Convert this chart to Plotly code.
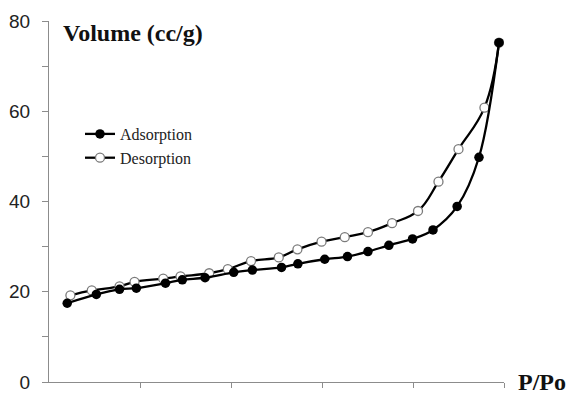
import plotly.graph_objects as go

# Data
ads_p = [0.040, 0.104, 0.155, 0.192, 0.256, 0.293, 0.343, 0.406, 0.447, 0.511,
         0.547, 0.606, 0.656, 0.701, 0.747, 0.799, 0.844, 0.897, 0.945, 0.989]
ads_v = [17.45, 19.4, 20.55, 20.8, 21.9, 22.65, 23.1, 24.3, 24.8, 25.4,
         26.2, 27.2, 27.8, 28.9, 30.3, 31.7, 33.7, 38.9, 49.8, 75.2]

des_p = [0.047, 0.094, 0.155, 0.188, 0.251, 0.289, 0.352, 0.393, 0.444, 0.505,
         0.546, 0.599, 0.650, 0.701, 0.754, 0.811, 0.856, 0.900, 0.957, 0.989]
des_v = [19.2, 20.3, 21.2, 22.2, 22.9, 23.4, 24.1, 25.0, 26.8, 27.6,
         29.4, 31.1, 32.1, 33.2, 35.2, 37.9, 44.4, 51.6, 60.8, 75.2]

y_tickvals = [0, 10, 20, 30, 40, 50, 60, 70, 80]
y_ticktext = ["0", "", "20", "", "40", "", "60", "", "80"]
x_tickvals = [0.2, 0.4, 0.6, 0.8, 1.0]

fig = go.Figure()
fig.add_trace(go.Scatter(
    x=des_p, y=des_v, mode="lines+markers", name="Desorption",
    line=dict(color="black", width=2.3, shape="spline", smoothing=1.2),
    marker=dict(symbol="circle", size=9, color="white",
                line=dict(color="#7a7a7a", width=1.3)),
))
fig.add_trace(go.Scatter(
    x=ads_p, y=ads_v, mode="lines+markers", name="Adsorption",
    line=dict(color="black", width=2.3, shape="spline", smoothing=1.0),
    marker=dict(symbol="circle", size=9.5, color="black"),
))

fig.update_layout(
    width=571, height=397,
    margin=dict(l=49, r=67, t=21, b=15),
    paper_bgcolor="white", plot_bgcolor="white",
    showlegend=True,
    legend=dict(x=(80 - 49) / 455, y=1 - (117 - 21) / 361, xanchor="left", yanchor="top",
                traceorder="reversed", bgcolor="rgba(0,0,0,0)",
                font=dict(family="Liberation Serif", size=16, color="#222"),
                itemwidth=30, tracegroupgap=0),
    xaxis=dict(range=[0, 1], showgrid=False, zeroline=False, automargin=False,
               showline=True, linecolor="#8c8c8c", linewidth=1,
               ticks="outside", ticklen=5, tickcolor="#8c8c8c",
               tickvals=x_tickvals, showticklabels=False),
    yaxis=dict(range=[0, 80], showgrid=False, zeroline=False, automargin=False,
               showline=True, linecolor="#8c8c8c", linewidth=1,
               ticks="outside", ticklen=6, tickcolor="#8c8c8c",
               tickvals=y_tickvals, ticktext=y_ticktext,
               ticklabelstandoff=8,
               tickfont=dict(family="Liberation Sans", size=19, color="#222")),
)

fig.add_annotation(text="<b>Volume (cc/g)</b>", xref="paper", yref="paper",
                   x=(61 - 49) / 455, y=1 + (21 - 33) / 361, xanchor="left", yanchor="middle",
                   showarrow=False,
                   font=dict(family="Liberation Serif", size=24, color="#111"))
fig.add_annotation(text="<b>P/Po</b>", xref="paper", yref="paper",
                   x=(568 - 49) / 455, y=0, xanchor="right", yanchor="middle",
                   showarrow=False,
                   font=dict(family="Liberation Serif", size=24, color="#111"))

fig.write_html("out.html", config={"displayModeBar": False},
               post_script="document.body.style.margin='0';document.body.style.overflow='hidden';")
